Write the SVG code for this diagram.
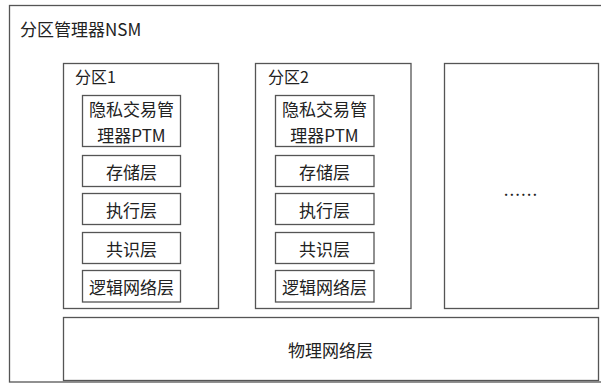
<svg xmlns="http://www.w3.org/2000/svg" width="601" height="383" viewBox="0 0 601 383">
<style>
.box{fill:#fff;stroke:#555;stroke-width:1.3}
.t{font-family:"Noto Sans CJK SC","Noto Sans",sans-serif;font-size:17px;fill:#222;text-anchor:middle;dominant-baseline:central}
.lbl{font-family:"Noto Sans CJK SC","Noto Sans",sans-serif;fill:#222}
</style>
<rect width="601" height="383" fill="#fff"/>
<g id="nsm">
<rect class="box" x="9.5" y="5.5" width="600" height="376.5"/>
<text class="lbl" x="20" y="36" font-size="17">分区管理器NSM</text>
</g>
<g id="partition1">
<rect class="box" x="63.5" y="63.5" width="155" height="245"/>
<text class="lbl" x="75" y="83" font-size="16">分区1</text>
</g>
<g id="p1-ptm"><rect class="box" x="82.5" y="95.5" width="98" height="51"/><text class="t" x="131.5" y="108">隐私交易管</text><text class="t" x="131.5" y="134">理器PTM</text></g>
<g id="p1-storage"><rect class="box" x="82.5" y="155.5" width="98" height="31"/><text class="t" x="131.5" y="171">存储层</text></g>
<g id="p1-exec"><rect class="box" x="82.5" y="193.5" width="98" height="31"/><text class="t" x="131.5" y="209">执行层</text></g>
<g id="p1-consensus"><rect class="box" x="82.5" y="232.5" width="98" height="31"/><text class="t" x="131.5" y="248">共识层</text></g>
<g id="p1-logic"><rect class="box" x="82.5" y="270.5" width="98" height="31.5"/><text class="t" x="131.5" y="286">逻辑网络层</text></g>
<g id="partition2">
<rect class="box" x="255.5" y="63.5" width="155.5" height="245"/>
<text class="lbl" x="268" y="83" font-size="16">分区2</text>
</g>
<g id="p2-ptm"><rect class="box" x="275.5" y="95.5" width="98.5" height="51"/><text class="t" x="324.5" y="108">隐私交易管</text><text class="t" x="324.5" y="134">理器PTM</text></g>
<g id="p2-storage"><rect class="box" x="275.5" y="155.5" width="98.5" height="31"/><text class="t" x="324.5" y="171">存储层</text></g>
<g id="p2-exec"><rect class="box" x="275.5" y="193.5" width="98.5" height="31"/><text class="t" x="324.5" y="209">执行层</text></g>
<g id="p2-consensus"><rect class="box" x="275.5" y="232.5" width="98.5" height="31"/><text class="t" x="324.5" y="248">共识层</text></g>
<g id="p2-logic"><rect class="box" x="275.5" y="270.5" width="98.5" height="31.5"/><text class="t" x="324.5" y="286">逻辑网络层</text></g>
<g id="partition-more">
<rect class="box" x="444.5" y="63.5" width="154" height="245"/>
<text class="t" x="521" y="188" letter-spacing="1">......</text>
</g>
<g id="physical">
<rect class="box" x="63.5" y="317.5" width="535" height="63"/>
<text class="t" x="330.5" y="349">物理网络层</text>
</g>
<g id="connectors"></g>
</svg>
